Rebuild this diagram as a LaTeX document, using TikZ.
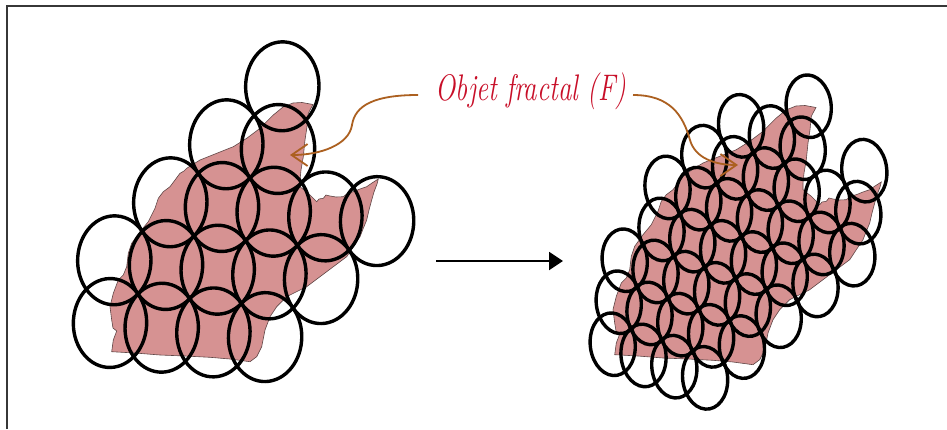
\documentclass[tikz,border=0pt]{standalone}
\usepackage{fontspec}
\usepackage{graphicx}
\usetikzlibrary{arrows.meta}

\definecolor{fractalpink}{RGB}{214,146,146}
\definecolor{fractaledge}{RGB}{95,70,70}
\definecolor{labelred}{RGB}{200,14,40}
\definecolor{pointerbrown}{RGB}{172,96,32}
\definecolor{framegray}{RGB}{55,55,55}

\tikzset{
  coverball/.style={line width=3.4pt, black},
  pointer/.style={pointerbrown, line width=1.8pt,
    -{Straight Barb[length=16pt,width=22pt]}},
  fractalshape/.pic={
    \filldraw[fill=fractalpink, draw=fractaledge, line width=0.6pt]
      (283,107) -- (293,103) -- (302,102.5) -- (313,104.5)
      -- (310,110) -- (308.3,113.3) -- (307,126.7) -- (305,140)
      -- (303.3,156.7) -- (301,170) -- (300,180) -- (300,186.7)
      -- (304,190) -- (308.3,193.3) -- (313,198) -- (316.7,201.7)
      -- (319,199) -- (323.3,198.3) -- (326,195) -- (330,196)
      -- (336,197) -- (343.3,196.7) -- (348,193) -- (353.3,191.7)
      -- (360,189) -- (366.7,186.7) -- (372,183) -- (378.3,179)
      -- (377,184) -- (374,192) -- (371.7,200) -- (369,210)
      -- (366.7,220) -- (363,229) -- (360,236.7) -- (353.3,246.7)
      -- (346.7,256.7) -- (333.3,266.7) -- (320,276.7) -- (306.7,286.7)
      -- (293.3,293.3) -- (286.7,296.7) -- (276.7,306.7) -- (270,316.7)
      -- (265,330) -- (261.7,346.7) -- (256.7,356.7) -- (250,361.7)
      -- (230,359) -- (210,357.3) -- (185,356) -- (160,355)
      -- (135,353) -- (111.7,351.7)
      -- (113.3,340) -- (116.7,331) -- (113,328) -- (111.7,320)
      -- (110,306.7) -- (113.3,293.3) -- (118.3,280) -- (123.3,275)
      -- (126.7,266.7) -- (128.3,253.3) -- (131.7,243.3) -- (140,231.7)
      -- (148.3,221.7) -- (155,208.3) -- (158.3,198.3) -- (163.3,191.7)
      -- (170,186.7) -- (175,180) -- (180,173.3) -- (184,171)
      -- (186.7,168.3) -- (200,160) -- (216.7,153.3) -- (233.3,146.7)
      -- (246.7,138.3) -- (260,128.3) -- (273.3,115) -- cycle;
  }
}

\begin{document}
\begin{tikzpicture}[x=1pt, y=-1pt]
  \useasboundingbox (0,0) rectangle (947,429);
  \fill[white] (0,0) rectangle (947,429);

  % frame
  \draw[framegray, line width=2.2pt] (7,429) -- (7,6) -- (947,6);

  % the fractal object, before and after refining the cover
  \pic at (0,0) {fractalshape};
  \pic at (503,3) {fractalshape};

  % coarse cover
  \begin{scope}[cm={51.7,-4.7,-4.3,-62.7,(170.3pt,-202.3pt)}, x=1pt, y=1pt]
    \foreach \i/\j in {2/-2, 1/-1, 2/-1, 0/0, 1/0, 2/0, 3/0, 4/0,
                       -1/1, 0/1, 1/1, 2/1, 3/1, -1/2, 0/2, 1/2, 2/2}
      \draw[coverball] (\i,\j) circle[radius=0.707];
  \end{scope}

  % fine cover
  \begin{scope}[cm={30.8,-11.2,-6,-42,(618.7pt,-302.25pt)}, x=1pt, y=1pt]
    \foreach \j/\a/\b in {1/0/3, 0/0/4, -1/0/5, -2/1/6, -3/1/7, -4/2/7, -5/3/5}
      \foreach \i in {\a,...,\b}
        \draw[coverball] (\i,\j) circle[radius=0.72];
    \draw[coverball] (7,-5) circle[radius=0.72];
    \draw[coverball] (5,-6) circle[radius=0.72];
  \end{scope}

  % label and pointers
  \node[font=\fontsize{26.8}{31}\selectfont\itshape, text=labelred,
        anchor=base, inner sep=0pt] (lbl) at (531,100)
        {\scalebox{1}[1.38]{Objet fractal (F)}};
  \coordinate (pl0) at (418,95);
  \coordinate (pl1) at (290,155);
  \coordinate (pr0) at (633,95);
  \coordinate (pr1) at (738,165);
  \draw[pointer] (pl0) .. controls (375,95) and (355,105) .. (352,125)
                       .. controls (349,145) and (320,155) .. (pl1);
  \draw[pointer] (pr0) .. controls (670,95) and (683,115) .. (690,140)
                       .. controls (695,158) and (715,165) .. (pr1);

  % refinement arrow
  \coordinate (ma) at (436,261);
  \coordinate (mb) at (563,261);
  \draw[line width=2pt, -{Triangle[length=14pt,width=18pt]}] (ma) -- (mb);
\end{tikzpicture}
\end{document}
